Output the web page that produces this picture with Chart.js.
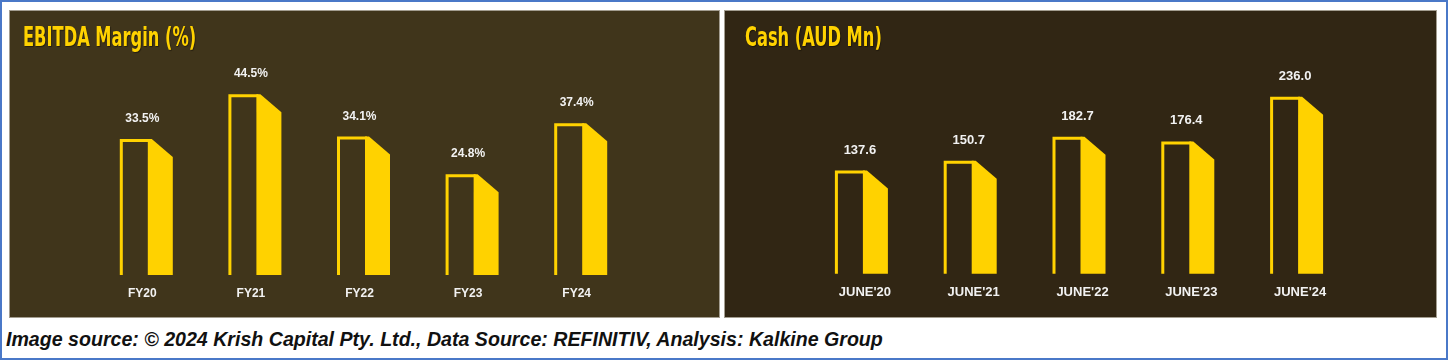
<!DOCTYPE html>
<html>
<head>
<meta charset="utf-8">
<script src="https://cdn.jsdelivr.net/npm/chart.js"></script>
<style>
  html, body { margin: 0; padding: 0; background: #fff; }
  #frame {
    position: relative; width: 1448px; height: 360px; box-sizing: border-box;
    border: 2px solid #4a78c8; overflow: hidden;
  }
  .panel {
    position: absolute; top: 8px; height: 308px; box-sizing: border-box;
    border: 1px solid #a39d90;
  }
  #panelLeft { left: 7px; width: 711px; background: #40351b; }
  #panelRight { left: 722px; width: 713px; background: #312614; }
  .panel canvas { position: absolute; left: 0; top: 0; }
  .title {
    position: absolute; top: 13px; font-family: "Liberation Sans Narrow", "DejaVu Sans Condensed", sans-serif;
    font-weight: bold; font-size: 26px; line-height: 26px; color: #ffd200;
    transform: scaleX(0.695); transform-origin: left top; white-space: nowrap;
    text-shadow: 1px 1px 1px rgba(0,0,0,0.45);
  }
  #caption {
    position: absolute; left: 4px; top: 328px; white-space: nowrap;
    font-family: "Liberation Sans Narrow", "Liberation Sans", sans-serif;
    font-weight: bold; font-style: italic; font-size: 19.6px; line-height: 19px; color: #111;
  }
</style>
</head>
<body>
<div id="frame">
  <div class="panel" id="panelLeft">
    <canvas id="ebitda-chart"></canvas>
    <div class="title" style="left: 13px;">EBITDA Margin (%)</div>
  </div>
  <div class="panel" id="panelRight">
    <canvas id="cash-chart"></canvas>
    <div class="title" style="left: 20px;">Cash (AUD Mn)</div>
  </div>
  <div id="caption">Image source: © 2024 Krish Capital Pty. Ltd., Data Source: REFINITIV, Analysis: Kalkine Group</div>
</div>

<script>
const ebitdaYears = ["FY20", "FY21", "FY22", "FY23", "FY24"];
const ebitdaMargin = [33.5, 44.5, 34.1, 24.8, 37.4];

const cashDates = ["JUNE'20", "JUNE'21", "JUNE'22", "JUNE'23", "JUNE'24"];
const cashAud = [137.6, 150.7, 182.7, 176.4, 236.0];

const YELLOW = "#ffd200";

// draws the "3d" bar: open front face + filled side face with slanted top
const bar3dPlugin = {
  id: "bar3d",
  afterDatasetsDraw(chart, args, opts) {
    const ctx = chart.ctx;
    const meta = chart.getDatasetMeta(0);
    const values = chart.data.datasets[0].data;
    ctx.save();
    meta.data.forEach((bar, i) => {
      const { x, y, base, width } = bar.getProps(["x", "y", "base", "width"], true);
      const L = x - width / 2;
      const front = 28;
      // front outline
      ctx.strokeStyle = YELLOW;
      ctx.lineWidth = 3;
      ctx.beginPath();
      ctx.moveTo(L + 1.5, base);
      ctx.lineTo(L + 1.5, y + 1.5);
      ctx.lineTo(L + front + 2, y + 1.5);
      ctx.stroke();
      // side face
      ctx.fillStyle = YELLOW;
      ctx.beginPath();
      ctx.moveTo(L + front, y);
      ctx.lineTo(L + front + 4, y);
      ctx.lineTo(L + width, y + 18);
      ctx.lineTo(L + width, base);
      ctx.lineTo(L + front, base);
      ctx.closePath();
      ctx.fill();
      // value label
      ctx.fillStyle = "#f2f2f2";
      ctx.font = "bold " + opts.fontSize + "px 'Liberation Sans', Arial, sans-serif";
      ctx.textAlign = "center";
      ctx.textBaseline = "alphabetic";
      ctx.fillText(opts.format(values[i]), x + opts.offset, y - 17);
    });
    ctx.restore();
  }
};

function makeChart(id, labels, data, yMax, pad, tickOffset, valueOpts, tickSize) {
  const canvas = document.getElementById(id);
  const panel = canvas.parentElement;
  canvas.width = panel.clientWidth;
  canvas.height = panel.clientHeight;
  return new Chart(canvas.getContext("2d"), {
    type: "bar",
    data: {
      labels: labels,
      datasets: [{
        data: data,
        backgroundColor: "transparent",
        borderWidth: 0,
        barThickness: 53,
      }],
    },
    options: {
      responsive: false,
      animation: false,
      layout: { padding: pad },
      plugins: {
        legend: { display: false },
        tooltip: { enabled: false },
        bar3d: valueOpts,
      },
      scales: {
        x: {
          grid: { display: false, drawTicks: false },
          border: { display: false },
          ticks: {
            color: "#f2f2f2",
            padding: 11,
            labelOffset: tickOffset,
            font: { family: "'Liberation Sans', Arial, sans-serif", size: tickSize, weight: "bold" },
          },
        },
        y: {
          display: false,
          min: 0,
          max: yMax,
        },
      },
    },
    plugins: [bar3dPlugin],
  });
}

makeChart("ebitda-chart", ebitdaYears, ebitdaMargin, 50,
  { left: 82, right: 84, top: 61, bottom: 5.6 }, -4,
  { fontSize: 12, offset: -4, format: (v) => v.toFixed(1) + "%" }, 12);

makeChart("cash-chart", cashDates, cashAud, 269,
  { left: 82, right: 85, top: 61, bottom: 5.6 }, 3.5,
  { fontSize: 13, offset: -1.5, format: (v) => v.toFixed(1) }, 13);
</script>
</body>
</html>
